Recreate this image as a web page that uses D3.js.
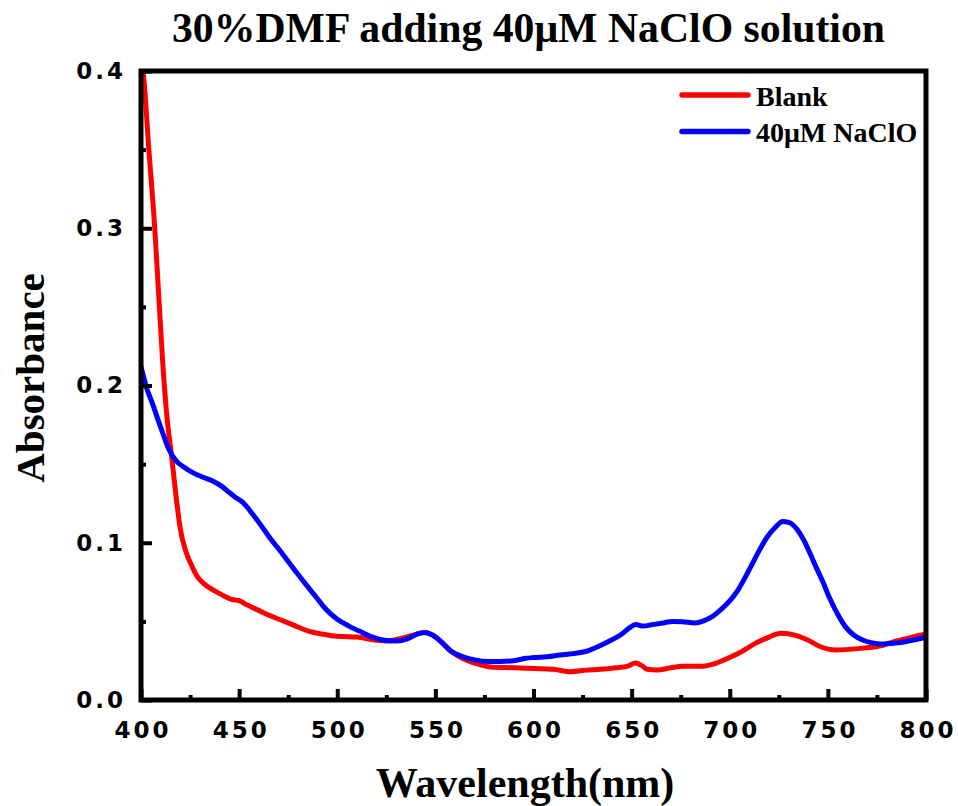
<!DOCTYPE html>
<html>
<head>
<meta charset="utf-8">
<script src="https://cdn.jsdelivr.net/npm/d3@7"></script>
<style>
  html, body { margin: 0; padding: 0; background: #fff; }
  svg { display: block; }
  .tick-label { font-family: "DejaVu Sans", sans-serif; font-weight: bold; font-size: 23px; letter-spacing: 3px; fill: #000; }
  .serif { font-family: "Liberation Serif", "Times New Roman", serif; font-weight: bold; fill: #000; }
</style>
</head>
<body>
<svg id="chart" width="958" height="806"></svg>
<script>
// Absorption spectra, 30% DMF, with and without 40 µM NaClO
const blankWavelength = [400, 401, 404, 407, 409, 411, 413, 415.6, 418, 420, 423, 426, 428.4, 432, 436.7, 441, 446, 450.4, 454, 460, 465, 471, 478, 485, 492, 500, 510, 520, 526, 532, 538, 544, 549, 553, 558, 563, 570, 578, 590, 600, 610, 619, 627, 634, 642, 648, 652, 655, 658, 663, 670, 676, 686, 692, 698, 705, 713, 720, 726, 734, 740, 746, 754, 761, 768, 775, 785, 793, 800];
const blankAbs = [0.406, 0.400, 0.350, 0.300, 0.258, 0.216, 0.183, 0.155, 0.128, 0.109, 0.094, 0.085, 0.079, 0.074, 0.070, 0.067, 0.064, 0.063, 0.0605, 0.057, 0.054, 0.051, 0.0475, 0.044, 0.042, 0.0405, 0.040, 0.038, 0.0375, 0.039, 0.041, 0.043, 0.041, 0.037, 0.031, 0.027, 0.0235, 0.021, 0.0205, 0.020, 0.0195, 0.018, 0.019, 0.0195, 0.0205, 0.0215, 0.0235, 0.022, 0.0195, 0.019, 0.0205, 0.0215, 0.0215, 0.023, 0.026, 0.030, 0.036, 0.040, 0.0425, 0.041, 0.038, 0.034, 0.0318, 0.0322, 0.033, 0.034, 0.0375, 0.040, 0.042];

const naclWavelength = [400, 403, 406, 409, 411.3, 414, 418, 422, 425, 431, 437, 441, 444, 448, 452, 457, 462, 466, 471, 475, 479, 484, 489.5, 494, 500, 506, 513, 518, 524, 530, 536, 541, 545, 549, 553, 558, 563, 570, 577, 583, 590, 596, 600, 607, 613.5, 620, 627, 633, 638, 645, 649, 652, 656, 660, 666, 671, 676, 682, 687, 691, 695, 700, 704, 707, 711, 715, 719, 723, 727, 730, 734, 738, 741, 744, 747.5, 751, 755, 759, 763, 768, 772, 777, 782, 787, 793, 800];
const naclAbs = [0.212, 0.198, 0.188, 0.177, 0.169, 0.160, 0.152, 0.148, 0.1456, 0.142, 0.139, 0.136, 0.133, 0.129, 0.1255, 0.118, 0.1096, 0.1025, 0.0948, 0.088, 0.0815, 0.0735, 0.065, 0.058, 0.0513, 0.047, 0.0428, 0.040, 0.038, 0.0375, 0.039, 0.042, 0.043, 0.041, 0.037, 0.031, 0.028, 0.0255, 0.0245, 0.0245, 0.025, 0.0265, 0.027, 0.0275, 0.0286, 0.0295, 0.031, 0.034, 0.037, 0.042, 0.046, 0.048, 0.047, 0.0478, 0.049, 0.050, 0.0498, 0.049, 0.0505, 0.053, 0.057, 0.063, 0.0695, 0.076, 0.0855, 0.095, 0.1035, 0.1095, 0.1135, 0.113, 0.109, 0.101, 0.093, 0.0845, 0.075, 0.0645, 0.0545, 0.0465, 0.0415, 0.038, 0.0365, 0.0356, 0.036, 0.0365, 0.038, 0.0398];

const xMajorTicks = [400, 450, 500, 550, 600, 650, 700, 750, 800];
const xMinorTicks = [425, 475, 525, 575, 625, 675, 725, 775];
const yMajorTicks = [0.0, 0.1, 0.2, 0.3, 0.4];
const yMinorTicks = [0.05, 0.15, 0.25, 0.35];

const seriesNames = ["Blank", "40μM NaClO"];
const seriesColors = ["#ff0000", "#0000ff"];

const svg = d3.select("#chart");
const plotLeft = 141, plotRight = 926, plotTop = 71, plotBottom = 700;

const x = d3.scaleLinear().domain([400, 800]).range([plotLeft, plotRight]);
const y = d3.scaleLinear().domain([0, 0.4]).range([plotBottom, plotTop]);

svg.append("defs").append("clipPath").attr("id", "plot-clip")
  .append("rect").attr("x", plotLeft).attr("y", plotTop)
  .attr("width", plotRight - plotLeft).attr("height", plotBottom - plotTop);

// spectra
const line = d3.line().x(d => x(d[0])).y(d => y(d[1])).curve(d3.curveMonotoneX);
const series = [
  d3.zip(blankWavelength, blankAbs),
  d3.zip(naclWavelength, naclAbs)
];
svg.append("g").attr("clip-path", "url(#plot-clip)")
  .selectAll("path").data(series).join("path")
  .attr("d", line)
  .attr("fill", "none")
  .attr("stroke", (d, i) => seriesColors[i])
  .attr("stroke-width", 5)
  .attr("stroke-linejoin", "round")
  .attr("stroke-linecap", "round");

// axes with inward ticks
function styleAxis(g) {
  g.select(".domain").remove();
  g.selectAll(".tick line").attr("stroke", "#000").attr("stroke-width", 4);
}

svg.append("g").attr("transform", `translate(0,${plotBottom})`)
  .call(d3.axisBottom(x).tickValues(xMinorTicks).tickSize(-5).tickFormat(""))
  .call(styleAxis);
svg.append("g").attr("transform", `translate(0,${plotBottom})`)
  .call(d3.axisBottom(x).tickValues(xMajorTicks).tickSize(-11).tickPadding(22).tickFormat(d3.format("d")))
  .call(styleAxis)
  .call(g => g.selectAll("text").attr("class", "tick-label").attr("dx", "1.5px"));

svg.append("g").attr("transform", `translate(${plotLeft},0)`)
  .call(d3.axisLeft(y).tickValues(yMinorTicks).tickSize(-5).tickFormat(""))
  .call(styleAxis);
svg.append("g").attr("transform", `translate(${plotLeft},0)`)
  .call(d3.axisLeft(y).tickValues(yMajorTicks).tickSize(-11).tickPadding(15).tickFormat(d3.format(".1f")))
  .call(styleAxis)
  .call(g => g.selectAll("text").attr("class", "tick-label"));

// frame
svg.append("rect")
  .attr("x", plotLeft).attr("y", plotTop)
  .attr("width", plotRight - plotLeft).attr("height", plotBottom - plotTop)
  .attr("fill", "none").attr("stroke", "#000").attr("stroke-width", 5);

// title and axis titles
svg.append("text").attr("class", "serif")
  .attr("x", 528.5).attr("y", 42).attr("text-anchor", "middle")
  .attr("font-size", 42)
  .attr("textLength", 713).attr("lengthAdjust", "spacingAndGlyphs")
  .text("30%DMF adding 40μM NaClO solution");

svg.append("text").attr("class", "serif")
  .attr("x", 525).attr("y", 797).attr("text-anchor", "middle")
  .attr("font-size", 42)
  .text("Wavelength(nm)");

svg.append("text").attr("class", "serif")
  .attr("transform", "translate(44,378) rotate(-90)")
  .attr("text-anchor", "middle")
  .attr("font-size", 41)
  .text("Absorbance");

// legend
const legend = svg.append("g");
seriesNames.forEach((name, i) => {
  const ly = 95 + i * 36.5;
  legend.append("line")
    .attr("x1", 682).attr("x2", 748).attr("y1", ly).attr("y2", ly)
    .attr("stroke", seriesColors[i]).attr("stroke-width", 5.5).attr("stroke-linecap", "round");
  legend.append("text").attr("class", "serif")
    .attr("x", 756).attr("y", ly + 10.5)
    .attr("font-size", 28)
    .text(name);
});
</script>
</body>
</html>
